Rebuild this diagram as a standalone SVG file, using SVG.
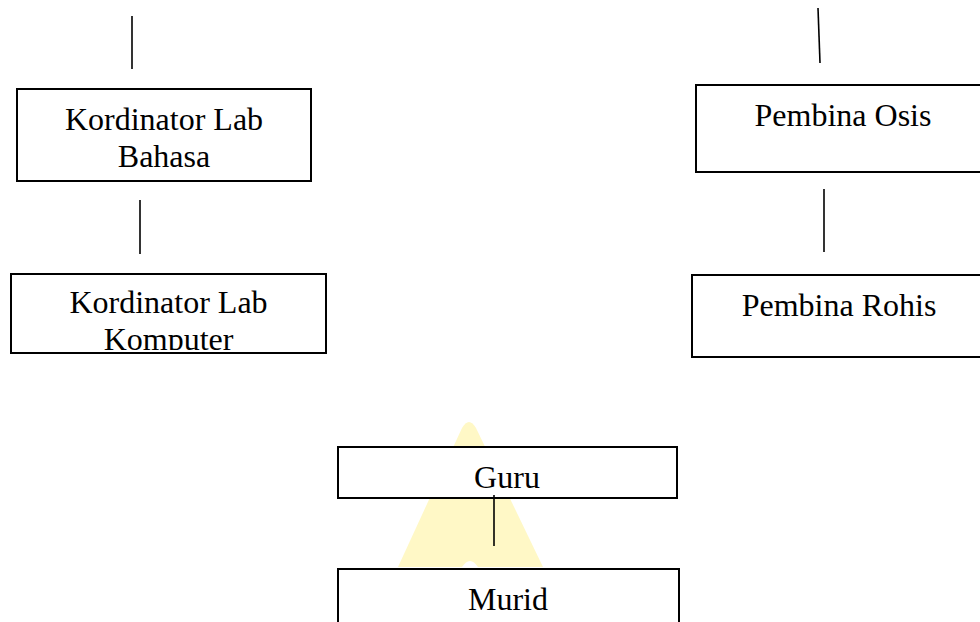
<svg xmlns="http://www.w3.org/2000/svg" width="980" height="622" viewBox="0 0 980 622">
<style>
.box{fill:#fff;stroke:#000;stroke-width:2}
.lbl{font-family:"Liberation Serif","Times New Roman",serif;font-size:32px;fill:#000;text-anchor:middle}
.conn line{stroke:#000;stroke-width:1.6}
</style>
<defs>
<clipPath id="clipKomp"><rect x="12" y="275" width="313" height="75"/></clipPath>
</defs>
<rect width="980" height="622" fill="#fff"/>
<g id="watermark">
<path d="M398,567 L462,428 Q469,416 476,428 L543,567 Z" fill="#fff8c6"/>
<path d="M462,567 Q470,555 478,567 Z" fill="#fff"/>
</g>
<g id="kordinator-bahasa">
<rect class="box" x="17" y="89" width="294" height="92"/>
<text class="lbl" x="164" y="130">Kordinator Lab</text>
<text class="lbl" x="164" y="167">Bahasa</text>
</g>
<g id="kordinator-komputer">
<rect class="box" x="11" y="274" width="315" height="79"/>
<g clip-path="url(#clipKomp)">
<text class="lbl" x="168.5" y="313">Kordinator Lab</text>
<text class="lbl" x="168.5" y="350">Komputer</text>
</g>
</g>
<g id="pembina-osis">
<rect class="box" x="696" y="85" width="300" height="87"/>
<text class="lbl" x="843" y="126">Pembina Osis</text>
</g>
<g id="pembina-rohis">
<rect class="box" x="692" y="275" width="300" height="82"/>
<text class="lbl" x="839" y="316">Pembina Rohis</text>
</g>
<g id="guru">
<rect class="box" x="338" y="447" width="339" height="51"/>
<text class="lbl" x="507" y="488">Guru</text>
</g>
<g id="murid">
<rect class="box" x="338" y="569" width="341" height="70"/>
<text class="lbl" x="508" y="610">Murid</text>
</g>
<g id="connectors" class="conn">
<line x1="132" y1="16" x2="132" y2="69"/>
<line x1="140" y1="200" x2="140" y2="254"/>
<line x1="818" y1="8" x2="820" y2="63"/>
<line x1="824" y1="189" x2="824" y2="252"/>
<line x1="494" y1="495" x2="494" y2="546"/>
</g>
</svg>
